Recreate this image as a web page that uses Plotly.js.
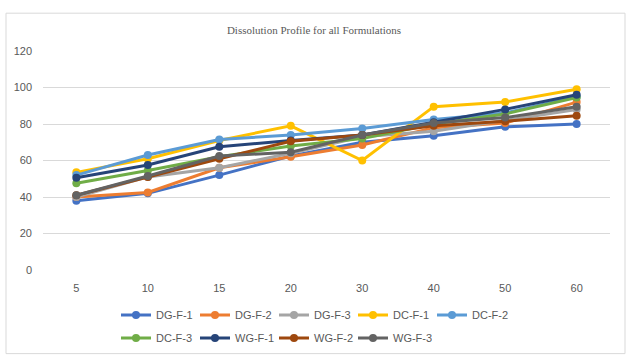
<!DOCTYPE html>
<html>
<head>
<meta charset="utf-8">
<script src="https://cdn.plot.ly/plotly-3.0.1.min.js"></script>
<style>
html,body{margin:0;padding:0;background:#fff;}
#chart{width:628px;height:363px;}
</style>
</head>
<body>
<div id="chart"></div>
<script>
var timePoints = ['5','10','15','20','30','40','50','60'];
var seriesNames = ['DG-F-1','DG-F-2','DG-F-3','DC-F-1','DC-F-2','DC-F-3','WG-F-1','WG-F-2','WG-F-3'];
var seriesColors = ['#4472C4','#ED7D31','#A5A5A5','#FFC000','#5B9BD5','#70AD47','#264478','#9E480E','#636363'];

var dgF1 = [38, 42, 52, 62.5, 70, 73.5, 78.5, 80];
var dgF2 = [40, 42.5, 56, 62, 68.5, 78, 80.5, 92];
var dgF3 = [40, 51, 56, 64, 73, 76, 82, 88];
var dcF1 = [53.5, 61, 71, 79, 60, 89.5, 92, 99];
var dcF2 = [52, 63, 71.5, 74, 77.5, 82.5, 86, 95];
var dcF3 = [47.5, 54.5, 62, 68, 72, 80, 85.5, 94.5];
var wgF1 = [50.5, 57.5, 67.5, 71, 74, 81, 88, 96];
var wgF2 = [41, 51, 61, 70.5, 74, 79, 81.5, 84.5];
var wgF3 = [41, 51.5, 62.5, 64.5, 74, 80.5, 83.5, 89.5];

var allSeries = [dgF1, dgF2, dgF3, dcF1, dcF2, dcF3, wgF1, wgF2, wgF3];

var traces = allSeries.map(function(vals, i){
  return {
    x: timePoints,
    y: vals,
    name: seriesNames[i],
    type: 'scatter',
    mode: 'lines+markers',
    line: {color: seriesColors[i], width: 3},
    marker: {color: seriesColors[i], size: 8},
    legend: i < 5 ? 'legend' : 'legend2',
    hoverinfo: 'skip'
  };
});

var legendFont = {family: 'Liberation Sans, Arial, sans-serif', size: 11, color: '#595959'};
var legendX = (116 - 43) / 567;

var layout = {
  width: 628,
  height: 363,
  paper_bgcolor: '#ffffff',
  plot_bgcolor: '#ffffff',
  margin: {l: 43, r: 18, t: 51, b: 92},
  title: {
    text: 'Dissolution Profile for all Formulations',
    font: {family: 'Liberation Serif, Times New Roman, serif', size: 11, color: '#595959'},
    x: 0.5, xanchor: 'center', xref: 'container',
    y: 1 - 30/363, yanchor: 'middle', yref: 'container'
  },
  showlegend: true,
  xaxis: {
    type: 'category',
    categoryorder: 'array',
    categoryarray: timePoints,
    showgrid: false,
    zeroline: false,
    showline: false,
    ticks: '',
    ticklabelstandoff: 10,
    tickfont: {family: 'Liberation Sans, Arial, sans-serif', size: 11, color: '#595959'},
    fixedrange: true
  },
  yaxis: {
    range: [0, 120],
    dtick: 20,
    showgrid: true,
    gridcolor: '#d9d9d9',
    gridwidth: 1,
    zeroline: false,
    showline: false,
    ticks: '',
    ticklabelstandoff: 10,
    tickfont: {family: 'Liberation Sans, Arial, sans-serif', size: 11, color: '#595959'},
    fixedrange: true
  },
  legend: {
    orientation: 'h',
    x: legendX, xanchor: 'left',
    y: (271 - 315) / 220, yanchor: 'middle',
    font: legendFont,
    entrywidth: 34, entrywidthmode: 'pixels',
    bgcolor: 'rgba(0,0,0,0)',
    itemclick: false, itemdoubleclick: false
  },
  legend2: {
    orientation: 'h',
    x: legendX, xanchor: 'left',
    y: (271 - 338) / 220, yanchor: 'middle',
    font: legendFont,
    entrywidth: 34, entrywidthmode: 'pixels',
    bgcolor: 'rgba(0,0,0,0)',
    itemclick: false, itemdoubleclick: false
  },
  shapes: [{
    type: 'rect', xref: 'paper', yref: 'paper',
    x0: (6 - 43) / 567, x1: (625 - 43) / 567,
    y0: (271 - 355) / 220, y1: (271 - 13) / 220,
    line: {color: '#d9d9d9', width: 1},
    fillcolor: 'rgba(0,0,0,0)',
    layer: 'below'
  }]
};

Plotly.newPlot('chart', traces, layout, {displayModeBar: false, staticPlot: true});
</script>
</body>
</html>
